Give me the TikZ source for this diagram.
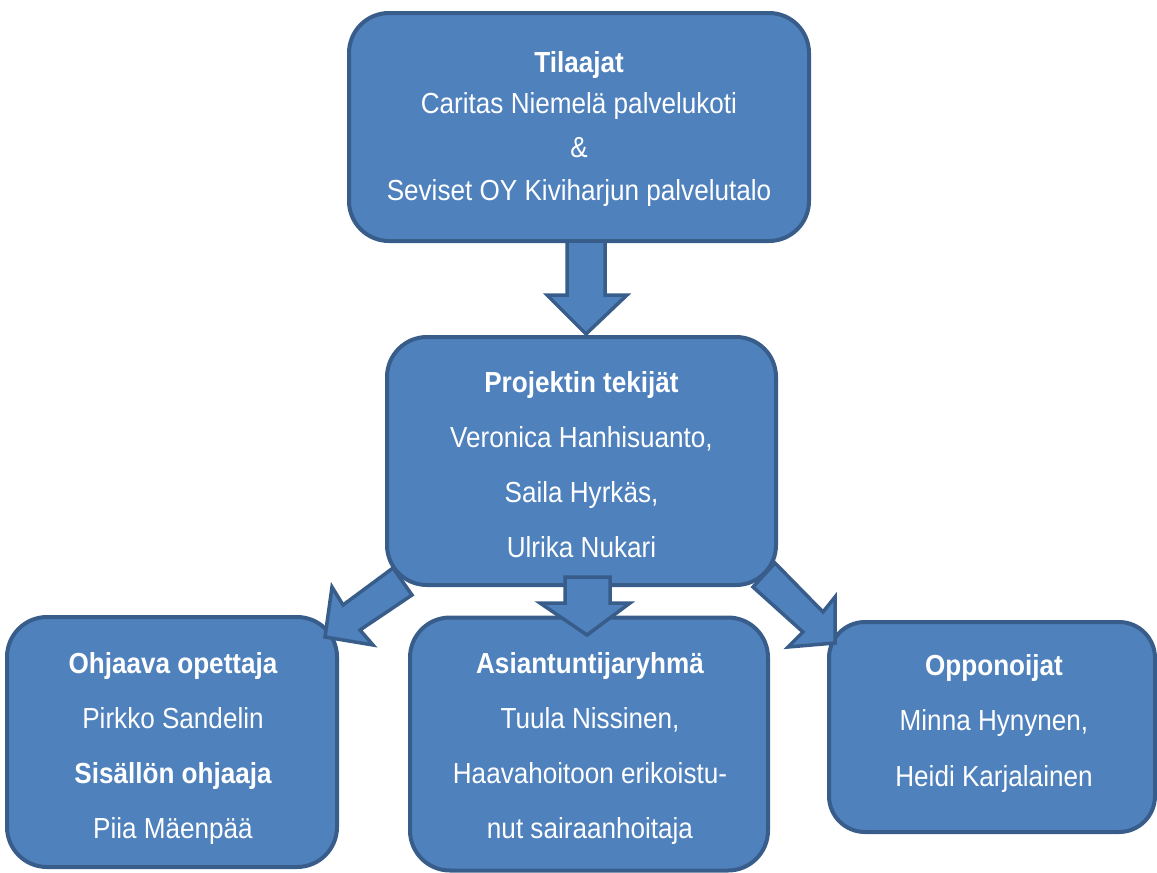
\documentclass[tikz,border=0pt]{standalone}
\usepackage{fontspec}
\setmainfont{Liberation Sans}[FakeStretch=0.9]
\definecolor{bfill}{HTML}{4F81BD}
\definecolor{bdr}{HTML}{385D8A}
\begin{document}
\begin{tikzpicture}[x=1pt,y=-1pt,
  box/.style={draw=bdr, fill=bfill, line width=4pt, rounded corners=40pt, inner sep=0pt},
  txt/.style={text=white, anchor=base, inner sep=0pt, font=\fontsize{29}{35}\selectfont},
  bt/.style={txt, font=\fontsize{29}{35}\selectfont\bfseries},
  arr/.style={draw=bdr, fill=bfill, line width=3.5pt, line join=miter}]
\useasboundingbox (0,0) rectangle (1157,873);

% boxes
\node[box, minimum width=460pt, minimum height=228pt] (b1) at (579,127) {};
\node[box, minimum width=389pt, minimum height=248pt] (b2) at (581.5,461) {};
\node[box, minimum width=330pt, minimum height=250pt] (b3) at (172,742) {};
\node[box, minimum width=358pt, minimum height=253pt] (b4) at (589,744) {};
\node[box, rounded corners=36pt, minimum width=326pt, minimum height=210pt] (b5) at (992,727) {};

% block arrows
\draw[arr] (567,241) -- (605,241) -- (605,295) -- (627,295) -- (586,334) -- (547,295) -- (567,295) -- cycle;
\draw[arr] (565,577) -- (610,577) -- (610,603) -- (630,603) -- (587,635) -- (540,603) -- (565,603) -- cycle;
\draw[arr] (393,568) -- (412,595) -- (360,630) -- (373,645) -- (325,637) -- (332,587) -- (343,605) -- cycle;
\draw[arr] (775,563) -- (753,587) -- (803,632) -- (788,647) -- (835,643) -- (835,597) -- (823,612) -- cycle;

% texts
\node[bt]  (t11) at (579,72)  {Tilaajat};
\node[txt] (t12) at (579,113) {Caritas Niemelä palvelukoti};
\node[txt] (t13) at (579,157) {\&};
\node[txt] (t14) at (579,200) {Seviset OY Kiviharjun palvelutalo};

\node[bt]  (t21) at (581.5,392) {Projektin tekijät};
\node[txt] (t22) at (581.5,447) {Veronica Hanhisuanto,};
\node[txt] (t23) at (581.5,502) {Saila Hyrkäs,};
\node[txt] (t24) at (581.5,557) {Ulrika Nukari};

\node[bt]  (t31) at (173,673) {Ohjaava opettaja};
\node[txt] (t32) at (173,728) {Pirkko Sandelin};
\node[bt]  (t33) at (173,783) {Sisällön ohjaaja};
\node[txt] (t34) at (173,838) {Piia Mäenpää};

\node[bt]  (t41) at (590,673) {Asiantuntijaryhmä};
\node[txt] (t42) at (590,728) {Tuula Nissinen,};
\node[txt] (t43) at (590,783) {Haavahoitoon erikoistu-};
\node[txt] (t44) at (590,838) {nut sairaanhoitaja};

\node[bt]  (t51) at (994,675) {Opponoijat};
\node[txt] (t52) at (994,730) {Minna Hynynen,};
\node[txt] (t53) at (994,786) {Heidi Karjalainen};
\end{tikzpicture}
\end{document}
